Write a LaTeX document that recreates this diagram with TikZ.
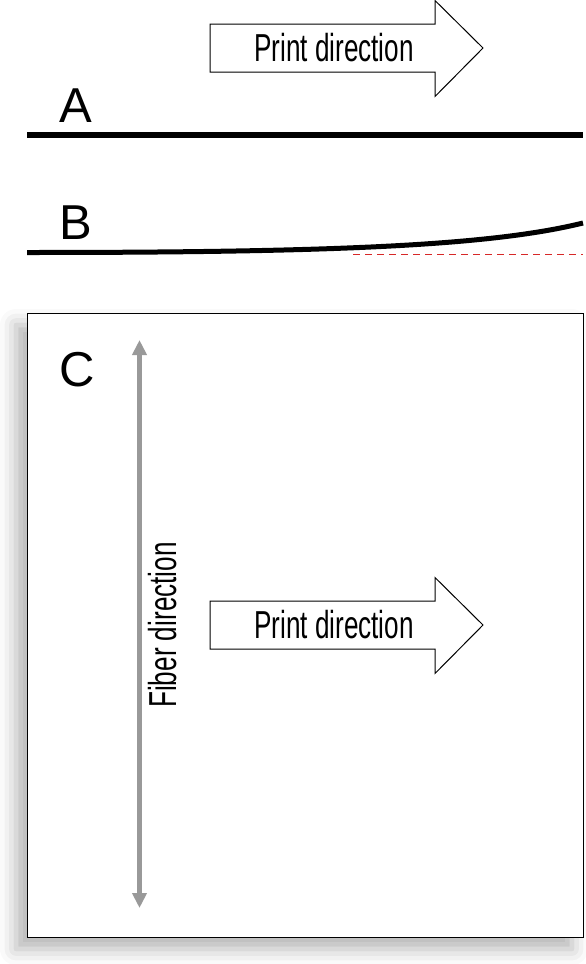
\documentclass[tikz,border=0pt]{standalone}
\usepackage{fontspec}
\setmainfont{Liberation Sans}
\newfontfamily\condfont[FakeStretch=0.67]{Liberation Sans}
\usetikzlibrary{shadows.blur,arrows.meta}
\definecolor{fibgray}{RGB}{153,153,153}
\definecolor{dashred}{RGB}{215,40,40}
\tikzset{
  letter/.style={font=\fontsize{49}{49}\selectfont, inner sep=0pt, anchor=center},
  dirtext/.style={font=\condfont\fontsize{39}{39}\selectfont, inner sep=0pt},
  bigarrow/.style={draw=black, line width=1pt, fill=white, line join=miter}
}
\begin{document}
\begin{tikzpicture}[x=1pt,y=-1pt]
\useasboundingbox (0,0) rectangle (586,964);
% top print direction arrow
\draw[bigarrow] (210,24)--(435,24)--(435,0.5)--(483,48)--(435,96.5)--(435,72)--(210,72)--cycle;
\node[dirtext] (pd1) at (334,48) {Print direction};
% A
\node[letter] (la) at (76,105.5) {A};
\coordinate (a1) at (27,135);
\coordinate (a2) at (583,135);
\draw[line width=6pt] (a1) -- (a2);
% B
\node[letter] (lb) at (76,222.5) {B};
\coordinate (b1) at (27,252.5);
\coordinate (b2) at (583,223);
\coordinate (d1) at (353,254);
\coordinate (d2) at (583,254);
\draw[dashred, line width=0.5pt, dash pattern=on 7pt off 5pt] (d1) -- (d2);
\draw[line width=5pt] (b1) .. controls (330,252.5) and (490,246) .. (b2);
% C box
\node[draw=black, line width=1pt, fill=white, minimum width=556pt, minimum height=624pt, inner sep=0pt,
  blur shadow={shadow xshift=-11pt, shadow yshift=-12pt, shadow blur radius=16pt, shadow opacity=30}]
  (box) at (305,625) {};
\node[letter] (lc) at (77,370) {C};
% fiber direction arrow
\coordinate (f1) at (139.5,340);
\coordinate (f2) at (139.5,908);
\draw[fibgray, line width=5pt, {Triangle[length=15pt,width=14pt]}-{Triangle[length=15pt,width=14pt]}] (f1) -- (f2);
\node[dirtext, rotate=90] (fd) at (163,625) {Fiber direction};
% lower print direction arrow
\begin{scope}[yshift=-577pt]
\draw[bigarrow] (210,24)--(435,24)--(435,0.5)--(483,48)--(435,96.5)--(435,72)--(210,72)--cycle;
\node[dirtext] (pd2) at (334,48) {Print direction};
\end{scope}
\end{tikzpicture}
\end{document}
